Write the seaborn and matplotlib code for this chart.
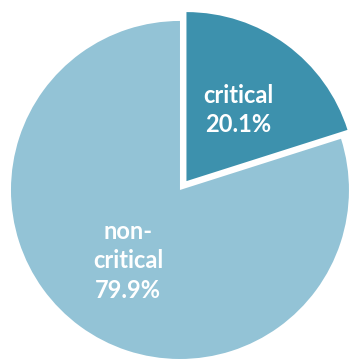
import matplotlib
matplotlib.use("Agg")
import matplotlib.pyplot as plt
import seaborn as sns

sns.set_theme(style="white")
plt.rcParams['font.family'] = ['Lato', 'DejaVu Sans']

categories = ["critical", "non-\ncritical"]
shares = [20.1, 79.9]
colors = ["#3d91ad", "#93c3d6"]
explode = [0.065, 0.0]

fig = plt.figure(figsize=(3.52, 3.60), dpi=100)
ax = fig.add_axes([0, 0, 1, 1])

labels_iter = iter(categories)

def fmt(pct):
    return f"{next(labels_iter)}\n{pct:.1f}%"

wedges, texts = ax.pie(
    shares,
    colors=colors,
    explode=explode,
    startangle=90,
    counterclock=False,
    autopct=fmt,
    pctdistance=0.52,
    textprops=dict(color="white", fontweight="bold", fontsize=17, linespacing=1.35),
    wedgeprops=dict(linewidth=0),
)[:2]

ax.set_xlim(-1.065, 1.018)
ax.set_ylim(-1.006, 1.124)
ax.set_aspect("auto")
ax.axis("off")

fig.savefig("out.png", dpi=100, facecolor="white")
